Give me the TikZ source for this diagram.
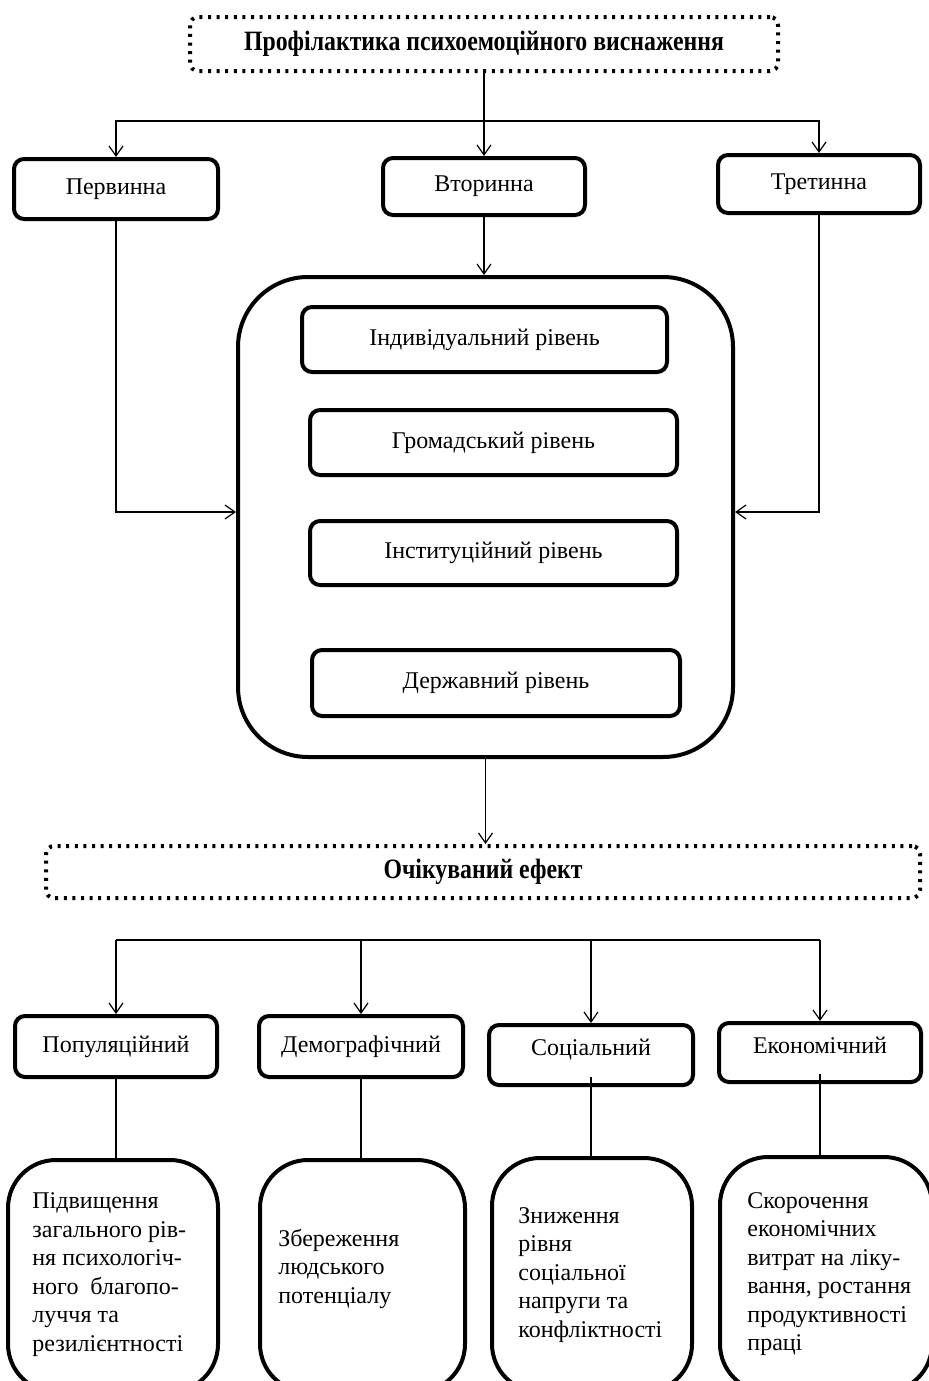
\documentclass[tikz,border=0pt]{standalone}
\usepackage{fontspec}
\setmainfont{Liberation Serif}
\newfontfamily\headfont{Liberation Serif}[FakeStretch=0.85]
\usetikzlibrary{arrows.meta}
\tikzset{>={Straight Barb[length=5pt,width=7pt]}}
\tikzset{
  box/.style={draw, line width=2pt, rounded corners=5pt, inner sep=0pt,
    align=center, font=\fontsize{12}{14}\selectfont},
  dotbox/.style={draw, line width=2pt, dash pattern=on 1.5pt off 2.8pt,
    rounded corners=4pt, inner sep=0pt, font=\headfont\bfseries\fontsize{14}{16}\selectfont},
  bigbox/.style={draw, line width=2pt, rounded corners=35pt, inner sep=0pt},
  resbox/.style={draw, line width=2pt, rounded corners=24pt, inner sep=0pt},
  restext/.style={anchor=west, align=left, inner sep=0pt, font=\fontsize{12}{14.25}\selectfont},
  link/.style={line width=0.6pt}
}

\begin{document}
\begin{tikzpicture}[x=0.5pt, y=-0.5pt]
\useasboundingbox (0,0) rectangle (928,1381);
% prevention
\node[dotbox, minimum width=294pt, minimum height=27pt] (prof) at (484,44) {Профілактика психоемоційного виснаження};
\node[box, minimum width=102pt, minimum height=30pt] (perv) at (116,189) {Первинна};
\node[box, minimum width=101pt, minimum height=28.5pt] (vtor) at (484,186.5) {Вторинна};
\node[box, minimum width=101pt, minimum height=29pt] (tret) at (819,184) {Третинна};
% levels
\node[bigbox, minimum width=247.5pt, minimum height=240pt] (big) at (485.5,517) {};
\node[box, minimum width=182.5pt, minimum height=32.5pt] (ind) at (484.5,339.5) {Індивідуальний рівень};
\node[box, minimum width=183.5pt, minimum height=32.5pt] (grom) at (493.5,442.5) {Громадський рівень};
\node[box, minimum width=183.5pt, minimum height=32pt] (inst) at (493.5,553) {Інституційний рівень};
\node[box, minimum width=184pt, minimum height=33pt] (derzh) at (496,683) {Державний рівень};
% effect
\node[dotbox, minimum width=437pt, minimum height=26pt] (effect) at (483,872) {Очікуваний ефект};
\node[box, minimum width=101pt, minimum height=30.5pt] (pop) at (116,1046.5) {Популяційний};
\node[box, minimum width=102pt, minimum height=30.5pt] (dem) at (361,1046.5) {Демографічний};
\node[box, minimum width=102pt, text height=15pt, text depth=15pt] (soc) at (591,1055) {Соціальний};
\node[box, minimum width=101pt, text height=15pt, text depth=14.5pt] (econ) at (820,1052.5) {Економічний};
% results
\node[resbox, minimum width=105pt, minimum height=116pt] (res1) at (113,1276) {};
\node[resbox, minimum width=102.5pt, minimum height=116pt] (res2) at (362.5,1276) {};
\node[resbox, minimum width=100pt, minimum height=117pt] (res3) at (592,1275) {};
\node[resbox, minimum width=106pt, minimum height=117.5pt] (res4) at (826,1274.5) {};
\node[restext] (res1txt) at (32,1274.5) {Підвищення\\загального рів-\\ня психологіч-\\ного~ благопо-\\луччя та\\резилієнтності};
\node[restext] (res2txt) at (278,1268.5) {Збереження\\людського\\потенціалу};
\node[restext] (res3txt) at (518,1275) {Зниження\\рівня\\соціальної\\напруги та\\конфліктності};
\node[restext] (res4txt) at (747,1274) {Скорочення\\економічних\\витрат на ліку-\\вання, ростання\\продуктивності\\праці};

% connectors
\coordinate (fork) at (485,121);
\coordinate (bus) at (485,940);
\draw[link, ->] (prof.south) -- (vtor.north);
\draw[link, ->] (fork) -| (perv.north);
\draw[link, ->] (fork) -| (tret.north);
\draw[link, ->] (vtor.south) -- (vtor.south |- big.north);
\draw[link, ->] (perv.south) |- ([yshift=2.5pt]big.west);
\draw[link, ->] (tret.south) |- ([yshift=2.5pt]big.east);
\draw[link, ->] (big.south) -- (big.south |- effect.north);
\draw[link] (pop.north |- bus) -- (econ.north |- bus);
\foreach \n in {pop,dem,soc,econ}
  \draw[link, ->] (\n.north |- bus) -- (\n.north);
\draw[link] (pop.south) -- (pop.south |- res1.north);
\draw[link] (dem.south) -- (dem.south |- res2.north);
\draw[link] ([yshift=5pt]soc.south) -- (soc.south |- res3.north);
\draw[link] ([yshift=5pt]econ.south) -- (econ.south |- res4.north);
\end{tikzpicture}
\end{document}
